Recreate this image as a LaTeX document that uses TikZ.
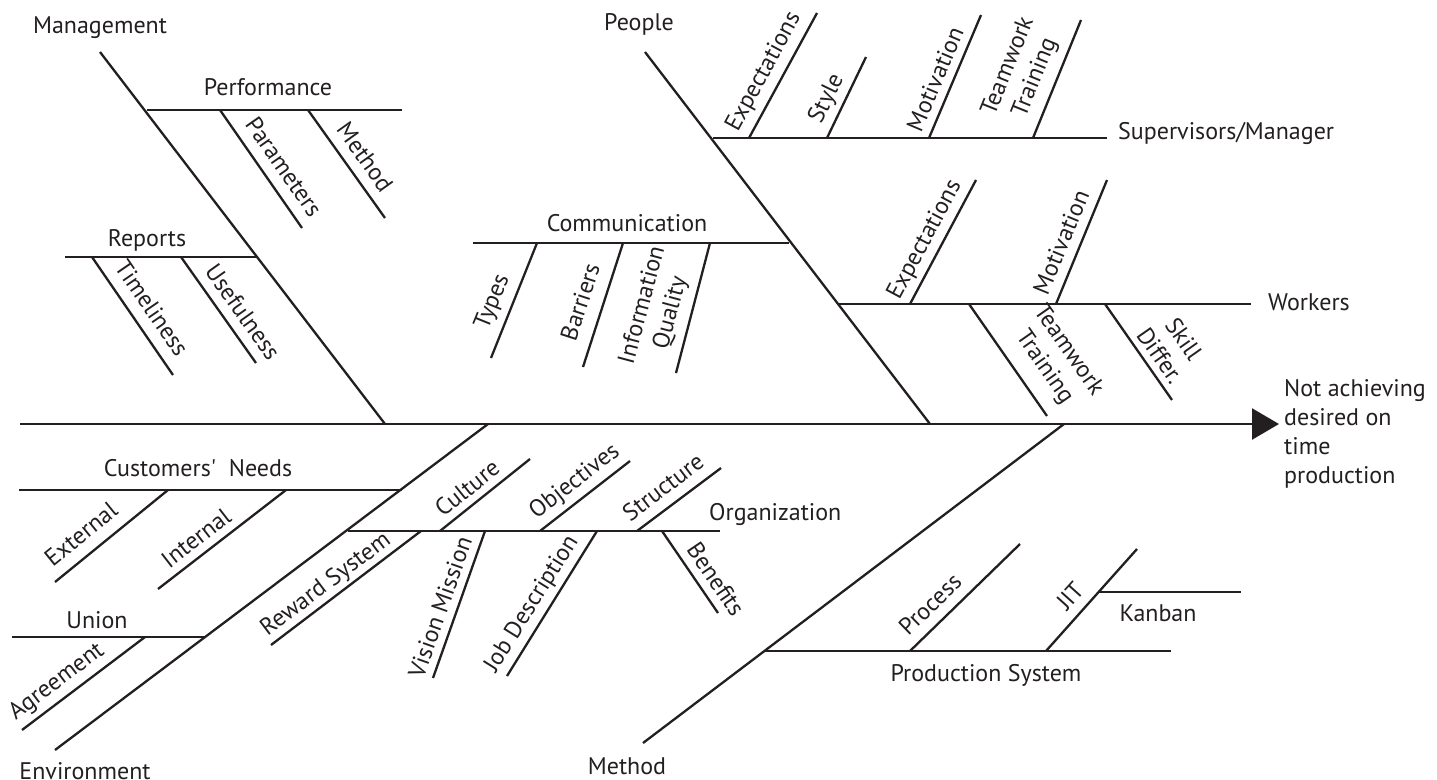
\documentclass[tikz,border=0pt]{standalone}
\usepackage{fontspec}
\setmainfont{PT Sans}
\usetikzlibrary{arrows.meta}
\definecolor{ink}{HTML}{231F20}
\begin{document}
\begin{tikzpicture}[x=1pt,y=-1pt,
  bone/.style={draw=ink,line width=2.3pt},
  lbl/.style={text=ink,inner sep=0pt,font=\fontsize{24}{29}\selectfont,align=center},
  lbll/.style={lbl,align=left,anchor=west}]
\useasboundingbox (0,0) rectangle (1437,779);

% spine with the effect arrow
\coordinate (s0) at (20,424);
\coordinate (s1) at (1279,424);
\draw[bone,-{Triangle[length=27pt,width=31pt]}] (s0) -- (s1);
\node[lbll] (effect) at (1284,434) {Not achieving\\desired on\\time\\production};

% ---------- Management ----------
\coordinate (m0) at (100,52);   \coordinate (m1) at (385,424);
\draw[bone] (m0) -- (m1);
\node[lbl] (management) at (100,28) {Management};
\coordinate (pf0) at (147,110); \coordinate (pf1) at (402,110);
\draw[bone] (pf0) -- (pf1);
\node[lbl] (performance) at (268,87) {Performance};
\coordinate (pa0) at (220,110); \coordinate (pa1) at (302,228);
\draw[bone] (pa0) -- (pa1);
\node[lbl,rotate=-55] (parameters) at (284,167) {Parameters};
\coordinate (me0) at (308,110); \coordinate (me1) at (385,218);
\draw[bone] (me0) -- (me1);
\node[lbl,rotate=-54.5] (method1) at (365,157) {Method};
\coordinate (rp0) at (65,257);  \coordinate (rp1) at (256,257);
\draw[bone] (rp0) -- (rp1);
\node[lbl] (reports) at (147,240) {Reports};
\coordinate (ti0) at (92,257);  \coordinate (ti1) at (173,375);
\draw[bone] (ti0) -- (ti1);
\node[lbl,rotate=-55.5] (timeliness) at (152,308) {Timeliness};
\coordinate (us0) at (181,257); \coordinate (us1) at (256,363);
\draw[bone] (us0) -- (us1);
\node[lbl,rotate=-54.7] (usefulness) at (243,312) {Usefulness};

% ---------- People ----------
\coordinate (pe0) at (645,52);  \coordinate (pe1) at (930,424);
\draw[bone] (pe0) -- (pe1);
\node[lbl] (people) at (639,24) {People};
\coordinate (sv0) at (713,138); \coordinate (sv1) at (1107,138);
\draw[bone] (sv0) -- (sv1);
\node[lbll] (supervisors) at (1118,133) {Supervisors/Manager};
\coordinate (ea0) at (749,138); \coordinate (ea1) at (817,13);
\draw[bone] (ea0) -- (ea1);
\node[lbl,rotate=61.5] (expect1) at (764,72) {Expectations};
\coordinate (st0) at (827,138); \coordinate (st1) at (866,57);
\draw[bone] (st0) -- (st1);
\node[lbl,rotate=64] (style) at (827,99) {Style};
\coordinate (mo0) at (929,138); \coordinate (mo1) at (981,15);
\draw[bone] (mo0) -- (mo1);
\node[lbl,rotate=67] (motiv1) at (935,79) {Motivation};
\coordinate (tw0) at (1033,138); \coordinate (tw1) at (1081,20);
\draw[bone] (tw0) -- (tw1);
\node[lbl,rotate=68] (team1) at (1022,72) {Teamwork\\Training};

\coordinate (cm0) at (473,243); \coordinate (cm1) at (789,243);
\draw[bone] (cm0) -- (cm1);
\node[lbl] (communication) at (627,223) {Communication};
\coordinate (ty0) at (537,243); \coordinate (ty1) at (491,358);
\draw[bone] (ty0) -- (ty1);
\node[lbl,rotate=68] (types) at (493,302) {Types};
\coordinate (ba0) at (623,243); \coordinate (ba1) at (583,367);
\draw[bone] (ba0) -- (ba1);
\node[lbl,rotate=72] (barriers) at (580,302) {Barriers};
\coordinate (iq0) at (710,243); \coordinate (iq1) at (676,373);
\draw[bone] (iq0) -- (iq1);
\node[lbl,rotate=75] (infoq) at (657,309) {Information\\Quality};

\coordinate (wk0) at (838,304); \coordinate (wk1) at (1251,304);
\draw[bone] (wk0) -- (wk1);
\node[lbll] (workers) at (1268,302) {Workers};
\coordinate (eb0) at (910,304); \coordinate (eb1) at (976,180);
\draw[bone] (eb0) -- (eb1);
\node[lbl,rotate=62] (expect2) at (925,240) {Expectations};
\coordinate (mb0) at (1056,304); \coordinate (mb1) at (1107,180);
\draw[bone] (mb0) -- (mb1);
\node[lbl,rotate=67.6] (motiv2) at (1061,242) {Motivation};
\coordinate (tb0) at (969,304); \coordinate (tb1) at (1047,416);
\draw[bone] (tb0) -- (tb1);
\node[lbl,rotate=-55] (team2) at (1056,359) {Teamwork\\Training};
\coordinate (sk0) at (1105,304); \coordinate (sk1) at (1172,400);
\draw[bone] (sk0) -- (sk1);
\node[lbl,rotate=-55] (skill) at (1172,347) {Skill\\Differ.};

% ---------- Environment ----------
\coordinate (en0) at (55,750);  \coordinate (en1) at (488,424);
\draw[bone] (en0) -- (en1);
\node[lbl] (environment) at (85,771) {Environment};
\coordinate (cn0) at (19,490);  \coordinate (cn1) at (402,490);
\draw[bone] (cn0) -- (cn1);
\node[lbl] (customers) at (198,468) {Customers\textquotesingle\ \ Needs};
\coordinate (ex0) at (168,490); \coordinate (ex1) at (55,582);
\draw[bone] (ex0) -- (ex1);
\node[lbl,rotate=39] (external) at (81,534) {External};
\coordinate (in0) at (286,490); \coordinate (in1) at (158,589);
\draw[bone] (in0) -- (in1);
\node[lbl,rotate=37.7] (internal) at (196,538) {Internal};
\coordinate (un0) at (12,637);  \coordinate (un1) at (205,637);
\draw[bone] (un0) -- (un1);
\node[lbl] (union) at (97,620) {Union};
\coordinate (ag0) at (145,637); \coordinate (ag1) at (22,730);
\draw[bone] (ag0) -- (ag1);
\node[lbl,rotate=37] (agreement) at (57,682) {Agreement};

\coordinate (or0) at (348,531); \coordinate (or1) at (720,531);
\draw[bone] (or0) -- (or1);
\node[lbll] (organization) at (709,514) {Organization};
\coordinate (cu0) at (440,531); \coordinate (cu1) at (530,459);
\draw[bone] (cu0) -- (cu1);
\node[lbl,rotate=38.7] (culture) at (467,488) {Culture};
\coordinate (ob0) at (540,531); \coordinate (ob1) at (630,461);
\draw[bone] (ob0) -- (ob1);
\node[lbl,rotate=38] (objectives) at (575,482) {Objectives};
\coordinate (sr0) at (637,531); \coordinate (sr1) at (721,468);
\draw[bone] (sr0) -- (sr1);
\node[lbl,rotate=37] (structure) at (663,487) {Structure};
\coordinate (rw0) at (421,531); \coordinate (rw1) at (271,645);
\draw[bone] (rw0) -- (rw1);
\node[lbl,rotate=37] (reward) at (326,585) {Reward System};
\coordinate (vm0) at (485,531); \coordinate (vm1) at (433,678);
\draw[bone] (vm0) -- (vm1);
\node[lbl,rotate=70.5] (vision) at (440,607) {Vision Mission};
\coordinate (jd0) at (597,531); \coordinate (jd1) at (507,676);
\draw[bone] (jd0) -- (jd1);
\node[lbl,rotate=58] (jobdesc) at (532,604) {Job Description};
\coordinate (bf0) at (662,531); \coordinate (bf1) at (718,613);
\draw[bone] (bf0) -- (bf1);
\node[lbl,rotate=-55.7] (benefits) at (716,579) {Benefits};

% ---------- Method ----------
\coordinate (mt0) at (643,743); \coordinate (mt1) at (1064,424);
\draw[bone] (mt0) -- (mt1);
\node[lbl] (method2) at (627,766) {Method};
\coordinate (ps0) at (764,651); \coordinate (ps1) at (1171,651);
\draw[bone] (ps0) -- (ps1);
\node[lbl] (prodsys) at (986,675) {Production System};
\coordinate (pr0) at (910,651); \coordinate (pr1) at (1020,544);
\draw[bone] (pr0) -- (pr1);
\node[lbl,rotate=44] (process) at (930,604) {Process};
\coordinate (jt0) at (1046,651); \coordinate (jt1) at (1137,549);
\draw[bone] (jt0) -- (jt1);
\node[lbl,rotate=48] (jit) at (1070,596) {JIT};
\coordinate (kb0) at (1099,592); \coordinate (kb1) at (1241,592);
\draw[bone] (kb0) -- (kb1);
\node[lbl] (kanban) at (1158,613) {Kanban};
\end{tikzpicture}
\end{document}
